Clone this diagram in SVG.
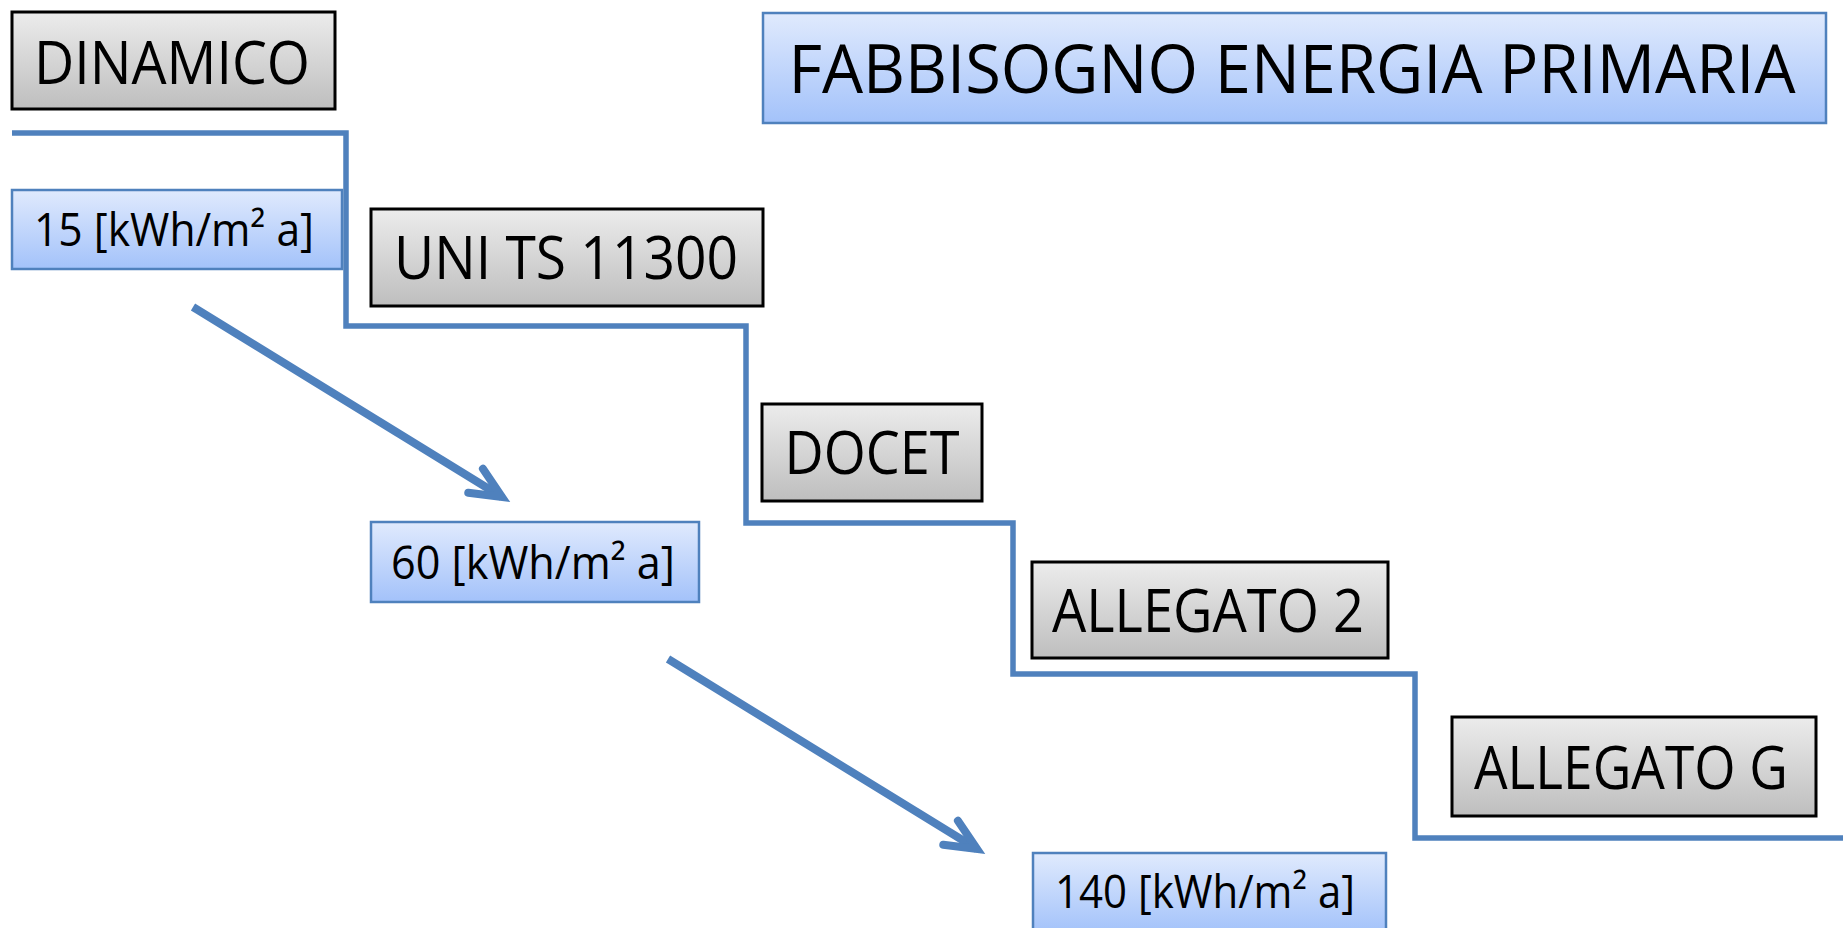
<svg xmlns="http://www.w3.org/2000/svg" width="1843" height="928" viewBox="0 0 1843 928">
<defs>
<linearGradient id="gGray" x1="0" y1="0" x2="0" y2="1">
<stop offset="0" stop-color="#ECECEC"/>
<stop offset="1" stop-color="#BEBEBE"/>
</linearGradient>
<linearGradient id="gBlue" x1="0" y1="0" x2="0" y2="1">
<stop offset="0" stop-color="#E0EAFD"/>
<stop offset="1" stop-color="#A3C2FA"/>
</linearGradient>
<marker id="arrowHead" markerUnits="userSpaceOnUse" orient="auto" refX="0" refY="0" markerWidth="60" markerHeight="60" viewBox="-40 -30 60 60" overflow="visible">
<path d="M-31,-14 L0,0 L-31,14" fill="none" stroke="#4F81BD" stroke-width="8" stroke-linecap="round" stroke-linejoin="miter"/>
</marker>
</defs>
<style>
.gray{fill:url(#gGray);stroke:#000;stroke-width:3}
.blue{fill:url(#gBlue);stroke:#4F81BD;stroke-width:2.5}
.lbl{font-family:"Open Sans","Noto Sans","Liberation Sans",sans-serif;fill:#000;text-anchor:middle}
.big{font-size:60px}
.title{font-size:67px}
.val{font-size:45px}
.step{fill:none;stroke:#4F81BD;stroke-width:5.5;stroke-linejoin:miter}
.arr{fill:none;stroke:#4F81BD;stroke-width:8;marker-end:url(#arrowHead)}
</style>
<rect width="1843" height="928" fill="#FFFFFF"/>
<g id="connectors">
<polyline class="step" points="12,133 346,133 346,326 746,326 746,523 1013,523 1013,674 1415,674 1415,838 1843,838"/>
<line class="arr" x1="193" y1="307" x2="502" y2="497"/>
<line class="arr" x1="668" y1="659" x2="977" y2="849"/>
</g>
<g id="title">
<rect class="blue" x="763" y="13" width="1063" height="110"/>
<text class="lbl title" x="1292" y="93" textLength="1007" lengthAdjust="spacingAndGlyphs">FABBISOGNO ENERGIA PRIMARIA</text>
</g>
<g id="dinamico">
<rect class="gray" x="12" y="12" width="323" height="97"/>
<text class="lbl big" x="172" y="84" textLength="276" lengthAdjust="spacingAndGlyphs">DINAMICO</text>
</g>
<g id="val15">
<rect class="blue" x="12" y="190" width="330" height="79"/>
<text class="lbl val" x="174" y="246" textLength="280" lengthAdjust="spacingAndGlyphs">15 [kWh/m² a]</text>
</g>
<g id="uni">
<rect class="gray" x="371" y="209" width="392" height="97"/>
<text class="lbl big" x="566" y="279" textLength="344" lengthAdjust="spacingAndGlyphs">UNI TS 11300</text>
</g>
<g id="docet">
<rect class="gray" x="762" y="404" width="220" height="97"/>
<text class="lbl big" x="872" y="474" textLength="175" lengthAdjust="spacingAndGlyphs">DOCET</text>
</g>
<g id="val60">
<rect class="blue" x="371" y="522" width="328" height="80"/>
<text class="lbl val" x="533" y="579" textLength="284" lengthAdjust="spacingAndGlyphs">60 [kWh/m² a]</text>
</g>
<g id="allegato2">
<rect class="gray" x="1032" y="562" width="356" height="96"/>
<text class="lbl big" x="1208" y="632" textLength="312" lengthAdjust="spacingAndGlyphs">ALLEGATO 2</text>
</g>
<g id="allegatoG">
<rect class="gray" x="1452" y="717" width="364" height="99"/>
<text class="lbl big" x="1631" y="789" textLength="314" lengthAdjust="spacingAndGlyphs">ALLEGATO G</text>
</g>
<g id="val140">
<rect class="blue" x="1033" y="853" width="353" height="80"/>
<text class="lbl val" x="1205" y="908" textLength="300" lengthAdjust="spacingAndGlyphs">140 [kWh/m² a]</text>
</g>
</svg>
